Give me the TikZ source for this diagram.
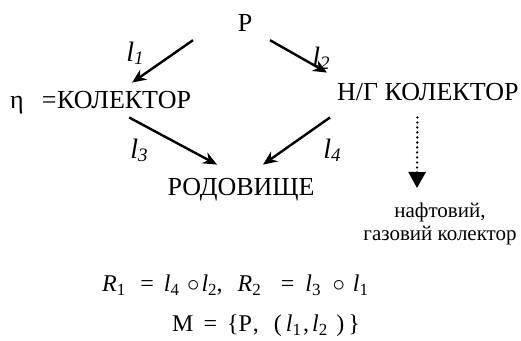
\documentclass[tikz,border=0pt]{standalone}
\usepackage{fontspec}
\setmainfont{Liberation Serif}
\usetikzlibrary{arrows.meta}

\newcommand{\lname}[1]{\textit{l}\raisebox{-0.25ex}{\fontsize{19}{19}\selectfont\itshape #1}}
\newcommand{\fsub}[2]{\textit{#1}\raisebox{-0.45ex}{\fontsize{17}{17}\selectfont #2}}

\begin{document}
\begin{tikzpicture}[x=1pt, y=-1pt,
  txt/.style={inner sep=0pt, font=\fontsize{26}{28}\selectfont},
  small/.style={inner sep=0pt, align=center, font=\fontsize{21}{23}\selectfont},
  lab/.style={inner sep=0pt, font=\fontsize{28}{29}\selectfont},
  formula/.style={inner sep=0pt, font=\fontsize{24}{26}\selectfont},
  edge/.style={-{Stealth[length=14pt, width=12pt]}, line width=2.4pt, draw=black},
  dots/.style={-{Triangle[length=16pt, width=17pt]}, line width=2.6pt, line cap=round, dash pattern=on 0pt off 5pt}
]
\useasboundingbox (0,0) rectangle (521,340);
\node[txt, anchor=base] (p) at (245,31) {Р};
\node[txt, anchor=base west] (kol) at (57,108) {КОЛЕКТОР};
\node[txt, anchor=base west] (eta) at (10,108) {η\hspace{18pt}=};
\node[txt, anchor=base west] (ng) at (337,100) {Н/Г КОЛЕКТОР};
\node[txt, anchor=base] (rod) at (241,195) {РОДОВИЩЕ};
\node[small, anchor=north] (oil) at (440,203) {нафтовий,\\газовий колектор};
\node[lab] (l1) at (135,53) {\lname{1}};
\node[lab] (l2) at (321,58) {\lname{2}};
\node[lab] (l3) at (139,150) {\lname{3}};
\node[lab] (l4) at (332,150) {\lname{4}};
\node[formula, anchor=base west] (f1) at (102,291) {\fsub{R}{1}\hspace{15pt}=\hspace{10pt}\fsub{l}{4}\hspace{8pt}$\circ$\hspace{2pt}\fsub{l}{2},\hspace{15pt}\fsub{R}{2}\hspace{20pt}=\hspace{11pt}\fsub{l}{3}\hspace{12pt}$\circ$\hspace{8pt}\fsub{l}{1}};
\node[formula, anchor=base west] (f2) at (172,331) {М\hspace{10pt}=\hspace{10pt}\{Р\hspace{1pt},\hspace{15pt}(\hspace{4pt}\fsub{l}{1}\hspace{2pt},\hspace{3pt}\fsub{l}{2}\hspace{9pt})\hspace{4pt}\}};
% arrows
\draw[edge] ([shift={(-52,9)}]p.south) -- ([shift={(8,-8)}]kol.north);
\draw[edge] ([shift={(25,9)}]p.south) -- ([shift={(-10,-10)}]ng.north west);
\draw[edge] ([shift={(5,9)}]kol.south) -- ([shift={(-24,-13)}]rod.north);
\draw[edge] ([shift={(-7,17)}]ng.south west) -- ([shift={(22,-13)}]rod.north);
\draw[dots] ([shift={(-10.5,17)}]ng.south) -- ([shift={(-23,-15)}]oil.north);
\end{tikzpicture}
\end{document}
